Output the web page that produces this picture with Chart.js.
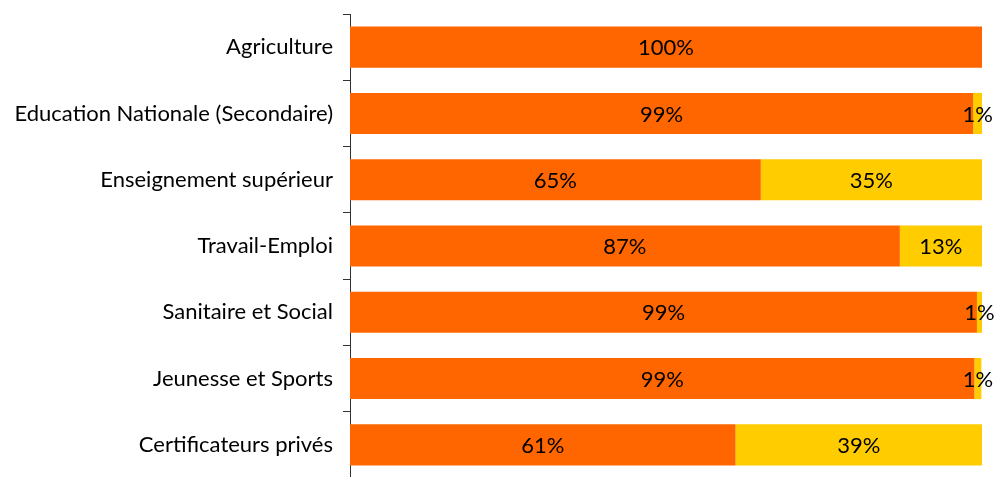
<!DOCTYPE html>
<html lang="fr">
<head>
  <meta charset="UTF-8" />
  <title>Répartition par ministère</title>
  <script src="https://cdn.jsdelivr.net/npm/chart.js"></script>
  <style>
    body {
      margin: 0;
      padding: 0;
      background: #fff;
      overflow: hidden;
    }

    #chartContainer {
      width: 996px;
      height: 480px;
    }
  </style>
</head>
<body>
  <div id="chartContainer">
    <canvas id="repartitionChart"></canvas>
  </div>

  <script>
    const categories = [
      'Agriculture',
      'Education Nationale (Secondaire)',
      'Enseignement supérieur',
      'Travail-Emploi',
      'Sanitaire et Social',
      'Jeunesse et Sports',
      'Certificateurs privés'
    ];
    const partOrange = [100, 98.6, 65, 87, 99.2, 98.8, 61];
    const partJaune = [0, 1.4, 35, 13, 0.8, 1.1, 39];

    // labels at the middle of every segment
    const barLabels = {
      id: 'barLabels',
      afterDatasetsDraw(chart) {
        const ctx = chart.ctx;
        ctx.save();
        ctx.font = '22px Lato, sans-serif';
        ctx.fillStyle = '#000';
        ctx.textAlign = 'center';
        ctx.textBaseline = 'middle';
        chart.data.datasets.forEach((ds, i) => {
          chart.getDatasetMeta(i).data.forEach((bar, j) => {
            const v = ds.data[j];
            if (!v) return;
            const x = (bar.x + bar.base) / 2;
            ctx.fillText(Math.round(v) + '%', x, bar.y + 1);
          });
        });
        ctx.restore();
      }
    };

    const ctx = document.getElementById('repartitionChart').getContext('2d');
    new Chart(ctx, {
      type: 'bar',
      data: {
        labels: categories,
        datasets: [
          { data: partOrange, backgroundColor: '#FF6600' },
          { data: partJaune, backgroundColor: '#FFCC00' }
        ]
      },
      options: {
        indexAxis: 'y',
        responsive: true,
        maintainAspectRatio: false,
        animation: false,
        layout: { padding: { top: 14, right: 14, bottom: 2, left: 0 } },
        datasets: { bar: { categoryPercentage: 1, barPercentage: 0.62 } },
        plugins: {
          legend: { display: false },
          tooltip: { enabled: false }
        },
        scales: {
          x: {
            stacked: true,
            min: 0,
            max: 100,
            display: false
          },
          y: {
            stacked: true,
            afterFit: s => {
              s.width = 350;
              s.paddingTop = 0;
              s.paddingBottom = 0;
            },
            border: { display: true, color: '#333', width: 1 },
            grid: {
              offset: true,
              drawOnChartArea: false,
              drawTicks: true,
              tickLength: 7,
              color: '#333'
            },
            ticks: {
              padding: 10,
              color: '#000',
              font: { family: 'Lato, sans-serif', size: 22 }
            }
          }
        }
      },
      plugins: [barLabels]
    });
  </script>
</body>
</html>
